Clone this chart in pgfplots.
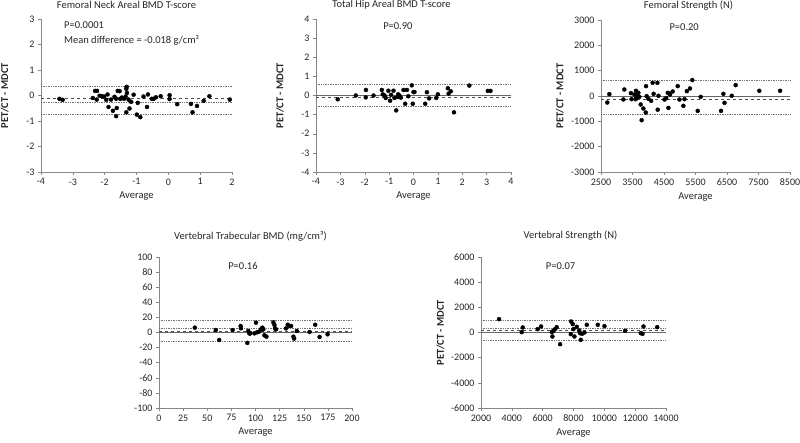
\documentclass[border=0pt]{standalone}
\usepackage{fontspec}
\setmainfont{Carlito}
\usepackage{pgfplots}
\pgfplotsset{compat=1.18}
\definecolor{axgray}{RGB}{134,134,134}
\pgfplotsset{ba/.style={
  scale only axis,
  axis x line=bottom, axis y line=left,
  axis line style={draw=axgray, -},
  tick align=outside, tick style={draw=axgray, thin},
  major tick length=3pt,
  tick label style={font=\fontsize{10}{12}\selectfont, text=black!85},
  /pgf/number format/assume math mode=true,
  /pgf/number format/set thousands separator={},
  title style={font=\fontsize{10.5}{12}\selectfont, at={(0.5,1)}, anchor=center, text=black!85, inner sep=1pt},
  xlabel style={font=\fontsize{10.5}{12}\selectfont, text=black!85},
  ylabel style={font=\bfseries\fontsize{10.5}{12}\selectfont, text=black!85, anchor=center},
  clip=false,
}}
\pgfplotsset{
  dotl/.style={densely dotted, color=black!55, line width=0.7pt, forget plot},
  dashl/.style={dashed, color=black!70, line width=0.7pt, forget plot},
  solidl/.style={color=black!60, line width=0.7pt, forget plot},
  pts/.style={only marks, mark=*, mark size=2pt, color=black},
}
\begin{document}
\begin{tikzpicture}[x=1pt,y=1pt]
\useasboundingbox (0,0) rectangle (800,443);
% Panel 1
\begin{axis}[ba, at={(41pt,271pt)}, anchor=south west, width=191pt, height=153pt,
  xmin=-4, xmax=2, ymin=-3, ymax=3, xtick={-4,...,2}, ytick={-3,...,3},
  title={Femoral Neck Areal BMD T-score}, title style={yshift=8pt, xshift=-10pt},
  xlabel={Average}, ylabel={PET/CT - MDCT}, ylabel style={at={(axis description cs:-0.19,0.5)}}]
\addplot[dotl] coordinates {(-4,0.36) (2,0.36)};
\addplot[dashl] coordinates {(-4,-0.13) (2,-0.13)};
\addplot[dotl] coordinates {(-4,-0.25) (2,-0.25)};
\addplot[dotl] coordinates {(-4,-0.72) (2,-0.72)};
\addplot[pts] coordinates {
(-3.42,-0.13) (-3.32,-0.17) (-2.37,-0.1) (-2.3,0.18) (-2.24,0.18) (-2.25,-0.16)
(-2.16,-0.01) (-2.09,-0.03) (-2.02,-0.04) (-1.95,-0.17) (-1.91,0.04) (-1.88,-0.45)
(-1.8,-0.16) (-1.74,-0.6) (-1.69,-0.05) (-1.64,-0.13) (-1.64,-0.81) (-1.62,-0.49)
(-1.59,0.18) (-1.53,0.17) (-1.51,-0.13) (-1.46,-0.08) (-1.39,-0.13) (-1.34,-0.04)
(-1.32,0.26) (-1.31,0.34) (-1.3,0.1) (-1.32,-0.66) (-1.25,-0.16) (-1.22,-0.51)
(-1.17,-0.25) (-1.09,0.03) (-0.99,-0.75) (-0.96,-0.29) (-0.88,-0.85) (-0.78,-0.04)
(-0.67,-0.45) (-0.64,0.04) (-0.52,-0.13) (-0.46,-0.13) (-0.39,-0.07) (-0.24,-0.03)
(0.04,0.01) (0.04,-0.14) (0.28,-0.34) (0.71,-0.33) (0.76,-0.66) (0.9,-0.41)
(1.11,-0.21) (1.29,-0.03) (1.93,-0.16)};
\node[anchor=north west, align=left, font=\fontsize{10.5}{15}\selectfont, text=black!85, inner sep=0pt]
  at (axis description cs:0.12,0.985) {P=0.0001\\Mean difference = -0.018 g/cm²};
\end{axis}
% Panel 2
\begin{axis}[ba, at={(316pt,271pt)}, anchor=south west, width=195pt, height=153pt,
  xmin=-4, xmax=4, ymin=-4, ymax=4, xtick={-4,...,4}, ytick={-4,...,4},
  title={Total Hip Areal BMD T-score}, title style={yshift=8pt, xshift=-22pt},
  xlabel={Average}, ylabel={PET/CT - MDCT}, ylabel style={at={(axis description cs:-0.185,0.5)}}]
\addplot[dotl] coordinates {(-4,0.6) (4,0.6)};
\addplot[solidl] coordinates {(-4,0) (4,0)};
\addplot[dashl] coordinates {(-4,-0.1) (4,-0.1)};
\addplot[dotl] coordinates {(-4,-0.59) (4,-0.59)};
\addplot[pts] coordinates {
(-3.11,-0.2) (-2.37,0) (-1.95,0.29) (-1.96,-0.1) (-1.64,0) (-1.3,0.29) (-1.26,0.06)
(-1.19,0) (-1.14,-0.13) (-1.03,0.25) (-0.96,-0.27) (-0.92,0.03) (-0.82,0.25)
(-0.78,-0.13) (-0.71,-0.78) (-0.66,-0.08) (-0.63,0.06) (-0.58,0) (-0.52,-0.11)
(-0.41,0.29) (-0.34,-0.43) (-0.27,0.29) (-0.21,-0.04) (-0.07,0.53) (-0.03,-0.43)
(0,0.18) (0.04,0.18) (0.48,-0.43) (0.55,0.17) (0.64,-0.15) (0.93,-0.13) (1,0.06)
(1.41,0.38) (1.44,0.1) (1.53,0.22) (1.66,-0.88) (2.29,0.52) (3.05,0.24) (3.16,0.24)};
\node[font=\fontsize{10.5}{12}\selectfont, text=black!85] at (axis description cs:0.42,0.956) {P=0.90};
\end{axis}
% Panel 3
\begin{axis}[ba, at={(601pt,271pt)}, anchor=south west, width=189pt, height=152pt,
  xmin=2500, xmax=8500, ymin=-3000, ymax=3000, xtick={2500,3500,...,8500}, ytick={-3000,-2000,...,3000},
  title={Femoral Strength (N)}, title style={yshift=8pt, xshift=-7pt},
  xlabel={Average}, ylabel={PET/CT - MDCT}, ylabel style={at={(axis description cs:-0.217,0.5)}},
  scaled ticks=false]
\addplot[dotl] coordinates {(2500,600) (8500,600)};
\addplot[solidl] coordinates {(2500,0) (8500,0)};
\addplot[dashl] coordinates {(2500,-150) (8500,-150)};
\addplot[dotl] coordinates {(2500,-705) (8500,-705)};
\addplot[pts] coordinates {
(2700,-257) (2765,73) (3210,-138) (3240,257) (3450,112) (3470,-125) (3560,59)
(3600,-125) (3610,204) (3630,-73) (3650,33) (3685,125) (3715,-33) (3760,-336)
(3790,-956) (3845,-495) (3920,-653) (3930,389) (3950,-7) (4005,-112) (4090,-191)
(4140,521) (4170,86) (4290,521) (4300,-541) (4325,7) (4515,-139) (4570,-86)
(4620,125) (4640,-468) (4670,99) (4690,59) (4775,178) (4935,389) (4990,-139)
(5115,-389) (5150,-125) (5225,191) (5325,297) (5400,627) (5570,-587) (5665,-33)
(6310,-587) (6385,86) (6420,-270) (6650,7) (6775,429) (7525,205) (8185,205)};
\node[font=\fontsize{10.5}{12}\selectfont, text=black!85] at (axis description cs:0.44,0.955) {P=0.20};
\end{axis}
% Panel 4
\begin{axis}[ba, at={(159pt,35pt)}, anchor=south west, width=193pt, height=151pt,
  xmin=0, xmax=200, ymin=-100, ymax=100, xtick={0,25,...,200}, ytick={-100,-80,...,100},
  title={Vertebral Trabecular BMD (mg/cm³)}, title style={yshift=15pt, xshift=-5pt},
  xlabel={Average}]
\addplot[dotl] coordinates {(0,15.5) (200,15.5)};
\addplot[dotl] coordinates {(0,5) (200,5)};
\addplot[dashl] coordinates {(0,2) (200,2)};
\addplot[solidl] coordinates {(0,0) (200,0)};
\addplot[dotl] coordinates {(0,-11.2) (200,-11.2)};
\addplot[pts] coordinates {
(37.1,6.4) (58.9,3.3) (62.4,-9.9) (76.3,3.3) (84.6,8.6) (84.9,5.5) (91.5,-13.8)
(92.5,2) (93.6,-1.1) (94.3,-1.5) (98.8,-1.1) (100.5,13) (101.6,0.2) (103.6,1.1)
(105.7,4.2) (107.1,6.4) (108.1,4.2) (109.2,-3.7) (111.3,-5.5) (118.5,13.4)
(119.6,9.9) (120.3,5.5) (121.3,4.2) (131.7,5.5) (133.4,10.3) (135.2,8.6)
(136.9,8.6) (139.3,-5.5) (140,-8.1) (142.8,2) (156,0.7) (161.9,10.3) (166.4,-5.9)
(174.7,-2.4)};
\node[font=\fontsize{10.5}{12}\selectfont, text=black!85] at (axis description cs:0.435,0.94) {P=0.16};
\end{axis}
% Panel 5
\begin{axis}[ba, at={(481pt,35pt)}, anchor=south west, width=185pt, height=151pt,
  xmin=2000, xmax=14000, ymin=-6000, ymax=6000, xtick={2000,4000,...,14000}, ytick={-6000,-4000,...,6000},
  title={Vertebral Strength (N)}, title style={yshift=15pt, xshift=-3pt},
  xlabel={Average}, ylabel={PET/CT - MDCT}, ylabel style={at={(axis description cs:-0.22,0.5)}},
  scaled ticks=false]
\addplot[dotl] coordinates {(2000,990) (14000,990)};
\addplot[dotl] coordinates {(2000,320) (14000,320)};
\addplot[dashl] coordinates {(2000,160) (14000,160)};
\addplot[solidl] coordinates {(2000,0) (14000,0)};
\addplot[dotl] coordinates {(2000,-660) (14000,-660)};
\addplot[pts] coordinates {
(3169,1062) (4641,27) (4706,398) (5680,265) (5896,478) (6589,27) (6632,-319)
(6697,133) (6805,265) (6913,425) (7130,-929) (7844,876) (7822,-133) (7952,664)
(7996,265) (8061,-319) (8212,451) (8364,159) (8429,-53) (8472,-584) (8558,-106)
(8710,0) (8861,611) (9576,611) (10009,504) (11351,133) (12368,-53) (12476,-106)
(12541,478) (13429,425)};
\node[font=\fontsize{10.5}{12}\selectfont, text=black!85] at (axis description cs:0.43,0.94) {P=0.07};
\end{axis}
\end{tikzpicture}
\end{document}
